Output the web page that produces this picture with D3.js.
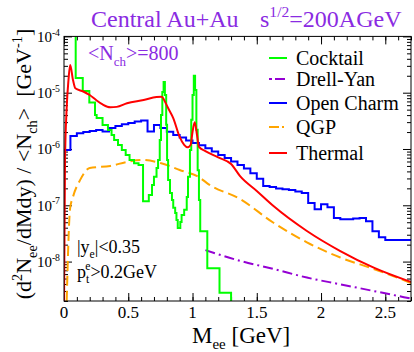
<!DOCTYPE html>
<html>
<head>
<meta charset="utf-8">
<script src="https://cdn.jsdelivr.net/npm/d3@7"></script>
<style>
body { margin: 0; background: #fff; }
svg, text, tspan { font-family: "Liberation Serif", "DejaVu Serif", serif; }
</style>
</head>
<body>
<div id="chart"></div>
<script>
// dilepton mass spectra
var cocktailMass = [0.00, 0.091, 0.146, 0.197, 0.241, 0.254, 0.30, 0.342, 0.37, 0.39, 0.42, 0.45, 0.48, 0.51, 0.545, 0.58,
    0.615, 0.66, 0.685, 0.70, 0.72, 0.732, 0.745, 0.755, 0.765, 0.775, 0.785, 0.795, 0.802,
    0.81, 0.825, 0.84, 0.85, 0.865, 0.875, 0.885, 0.905, 0.915, 0.935, 0.955, 0.965,
    0.98, 0.99, 1.00, 1.01, 1.02, 1.03, 1.04, 1.05, 1.06, 1.115, 1.21, 1.30];
var cocktailVal = [3e-4, 1.82e-5, 1.07e-5, 6.7e-6, 4.0e-6, 3.55e-6, 2.67e-6, 2.18e-6, 1.77e-6, 1.44e-6, 1.18e-6, 9.6e-7, 7.8e-7, 6.4e-7, 5.6e-7, 5.2e-7,
    1.18e-7, 1.52e-7, 2.3e-7, 3.2e-7, 4.6e-7, 6.4e-7, 1.44e-6, 4.0e-6, 1.03e-5, 1.55e-5, 9.1e-6, 2.7e-6, 6.4e-7,
    2.8e-7, 1.65e-7, 1.24e-7, 9.0e-8, 7.3e-8, 5.5e-8, 3.95e-8, 5.05e-8, 6.7e-8, 8.3e-8, 1.4e-7, 3.2e-7,
    9.6e-7, 3.3e-6, 9.1e-6, 2.0e-5, 1.12e-5, 2.2e-6, 4.2e-7, 1.24e-7, 3.45e-8, 7.6e-9, 2.8e-9, 1e-10];

var charmMass = d3.range(0, 2.701, 0.05);
var charmVal = [9.6e-7, 1.70e-6, 1.90e-6, 2.01e-6, 2.09e-6, 2.18e-6, 2.05e-6, 2.35e-6, 2.56e-6, 2.75e-6,
    2.90e-6, 3.08e-6, 3.2e-6, 2.05e-6, 2.67e-6, 2.35e-6, 2.03e-6, 1.77e-6, 1.60e-6, 1.42e-6,
    1.28e-6, 1.16e-6, 1.03e-6, 9.0e-7, 7.8e-7, 6.9e-7, 6.0e-7, 5.2e-7, 4.5e-7, 3.7e-7,
    2.95e-7, 2.2e-7, 2.12e-7, 1.98e-7, 1.92e-7, 1.87e-7, 1.76e-7, 1.65e-7, 1.10e-7, 8.5e-8,
    1.04e-7, 9.2e-8, 5.95e-8, 5.65e-8, 5.65e-8, 5.85e-8, 5.95e-8, 5.2e-8, 3.45e-8, 2.7e-8,
    2.42e-8, 2.42e-8, 2.42e-8, 2.42e-8, 2.42e-8];

var thermalMass = [0.0, 0.008, 0.02, 0.035, 0.048, 0.07, 0.088, 0.15, 0.20, 0.25, 0.30, 0.36, 0.41, 0.49, 0.62, 0.72, 0.76,
    0.79, 0.81, 0.85, 0.90, 0.935, 0.96, 0.985, 1.00, 1.017, 1.035, 1.05, 1.10, 1.20, 1.30, 1.37,
    1.50, 1.63, 1.89, 2.15, 2.41, 2.70];
var thermalVal = [1.5e-9, 6.4e-7, 4.9e-6, 1.7e-5, 3.1e-5, 1.68e-5, 1.2e-5, 1.05e-5, 9.1e-6, 7.4e-6, 6.2e-6, 5.5e-6, 5.6e-6, 6.5e-6, 7.4e-6, 8.4e-6, 8.5e-6,
    6.6e-6, 5.35e-6, 3.55e-6, 1.64e-6, 1.18e-6, 1.07e-6, 1.18e-6, 2.0e-6, 3.0e-6, 1.77e-6, 1.09e-6, 9.2e-7, 7.1e-7, 5.4e-7, 3.3e-7,
    1.8e-7, 9.7e-8, 3.5e-8, 1.54e-8, 7.8e-9, 4.35e-9];

var qgpMass = [0.021, 0.047, 0.07, 0.125, 0.20, 0.36, 0.49, 0.60, 0.75, 0.90, 1.06, 1.11, 1.37, 1.63, 1.89, 2.15, 2.41, 2.70];
var qgpVal = [2e-9, 8.6e-8, 1.41e-7, 2.8e-7, 4.6e-7, 5.0e-7, 5.9e-7, 6.4e-7, 5.64e-7, 4.24e-7, 3.07e-7, 2.5e-7, 1.29e-7, 4.9e-8, 2.2e-8, 1.18e-8, 7.4e-9, 4.17e-9];

var dyMass = [1.10, 1.37, 1.63, 1.89, 2.15, 2.41, 2.70];
var dyVal = [1.6e-8, 1.03e-8, 7.4e-9, 5.2e-9, 3.95e-9, 3.0e-9, 2.2e-9];

var xTicks = [0, 0.5, 1, 1.5, 2, 2.5];
var xTickLabels = ["0", "0.5", "1", "1.5", "2", "2.5"];
var yTickExp = [-4, -5, -6, -7, -8];
var legendNames = ["Cocktail", "Drell-Yan", "Open Charm", "QGP", "Thermal"];

var W = 414, H = 352;
var margin = {top: 36.4, right: 3, bottom: 51, left: 64},
    width = W - margin.left - margin.right,
    height = H - margin.top - margin.bottom;

var svg = d3.select("#chart").append("svg")
    .attr("width", W)
    .attr("height", H)
    .attr("font-family", "Liberation Serif, DejaVu Serif, serif");

var g = svg.append("g")
    .attr("transform", "translate(" + margin.left + "," + margin.top + ")");

var x = d3.scaleLinear().domain([0, 2.7]).range([0, width]);
var y = d3.scaleLog().domain([Math.pow(10, -8.7), 1e-4]).range([height, 0]);

var violet = "#8a2be2";

// writes text with sub/superscripts as tspans
function rich(sel, parts, size) {
    var shift = 0;
    parts.forEach(function (p) {
        var target = p[1] === "sup" ? -size * 0.42 : p[1] === "sub" ? size * 0.28 : 0;
        sel.append("tspan")
            .attr("dy", target - shift)
            .attr("font-size", p[1] ? size * 0.65 : size)
            .text(p[0]);
        shift = target;
    });
}

g.append("clipPath").attr("id", "clip")
    .append("rect").attr("width", width).attr("height", height);

// ticks (inward, on all four sides)
var minorX = d3.range(0, 2.71, 0.1);
var minorY = [];
for (var e = -9; e < -4; e++) {
    for (var k = 2; k < 10; k++) {
        var v = k * Math.pow(10, e);
        if (v > Math.pow(10, -8.7) && v < 1e-4) minorY.push(v);
    }
}

function ticks(axis, vals, len) {
    return axis.tickValues(vals).tickSize(-len).tickFormat("");
}

g.append("g").attr("transform", "translate(0," + height + ")").call(ticks(d3.axisBottom(x), minorX, 4));
g.append("g").attr("transform", "translate(0," + height + ")").call(ticks(d3.axisBottom(x), xTicks, 8));
g.append("g").call(ticks(d3.axisTop(x), minorX, 4));
g.append("g").call(ticks(d3.axisTop(x), xTicks, 8));
g.append("g").call(ticks(d3.axisLeft(y), minorY, 4));
g.append("g").call(ticks(d3.axisLeft(y), yTickExp.map(function (d) { return Math.pow(10, d); }), 8));
g.append("g").attr("transform", "translate(" + width + ",0)").call(ticks(d3.axisRight(y), minorY, 4));
g.append("g").attr("transform", "translate(" + width + ",0)").call(ticks(d3.axisRight(y), yTickExp.map(function (d) { return Math.pow(10, d); }), 8));
g.selectAll(".domain").remove();
g.selectAll(".tick line").attr("stroke", "#000");

// tick labels
g.selectAll(".xlab")
    .data(xTicks)
    .enter().append("text")
    .attr("x", function (d) { return x(d); })
    .attr("y", height + 17)
    .attr("text-anchor", "middle")
    .attr("font-size", 17)
    .text(function (d, i) { return xTickLabels[i]; });

yTickExp.forEach(function (d) {
    var t = g.append("text")
        .attr("x", -4)
        .attr("y", y(Math.pow(10, d)) + 5.5)
        .attr("text-anchor", "end");
    rich(t, [["10"], [String(d), "sup"]], 15);
});

// curves
var plot = g.append("g").attr("clip-path", "url(#clip)");

function series(mass, vals, curve) {
    var pts = mass.map(function (m, i) { return [m, vals[i]]; });
    return d3.line()
        .x(function (d) { return x(d[0]); })
        .y(function (d) { return y(d[1]); })
        .curve(curve)(pts);
}

plot.append("path")
    .attr("d", series(qgpMass, qgpVal, d3.curveMonotoneX))
    .attr("fill", "none").attr("stroke", "#ffa500").attr("stroke-width", 2)
    .attr("stroke-dasharray", "10,5");

plot.append("path")
    .attr("d", series(dyMass, dyVal, d3.curveMonotoneX))
    .attr("fill", "none").attr("stroke", "#9400d3").attr("stroke-width", 2)
    .attr("stroke-dasharray", "10,4,2,4");

var charmPts = [0].concat(charmMass);
var charmV = [1e-10].concat(charmVal);
plot.append("path")
    .attr("d", series(charmPts, charmV, d3.curveStepAfter))
    .attr("fill", "none").attr("stroke", "#0000ff").attr("stroke-width", 2);

plot.append("path")
    .attr("d", series(cocktailMass, cocktailVal, d3.curveStepAfter))
    .attr("fill", "none").attr("stroke", "#00ff00").attr("stroke-width", 2);

plot.append("path")
    .attr("d", series(thermalMass, thermalVal, d3.curveMonotoneX))
    .attr("fill", "none").attr("stroke", "#ff0000").attr("stroke-width", 2);

// frame
g.append("rect")
    .attr("width", width).attr("height", height)
    .attr("fill", "none").attr("stroke", "#000").attr("stroke-width", 1);

// legend
var legendColor = ["#00ff00", "#9400d3", "#0000ff", "#ffa500", "#ff0000"];
var legendDash = [null, "3,3,10,3", null, "10,3,2,3", null];
var legendY = [58, 79, 103, 127, 153];
legendNames.forEach(function (name, i) {
    svg.append("line")
        .attr("x1", 269).attr("x2", 287)
        .attr("y1", legendY[i]).attr("y2", legendY[i])
        .attr("stroke", legendColor[i]).attr("stroke-width", 2)
        .attr("stroke-dasharray", legendDash[i]);
    svg.append("text")
        .attr("x", 296).attr("y", legendY[i] + 7)
        .attr("font-size", 20)
        .text(name);
});

// title and annotations
svg.append("text")
    .attr("x", 91).attr("y", 27)
    .attr("font-size", 24).attr("fill", violet)
    .text("Central Au+Au");
var s = svg.append("text")
    .attr("x", 260).attr("y", 27)
    .attr("fill", violet);
rich(s, [["s"], ["1/2", "sup"], ["=200AGeV"]], 24);

var nch = svg.append("text").attr("x", 88).attr("y", 60).attr("fill", violet);
rich(nch, [["<N"], ["ch", "sub"], [">=800"]], 20);

var ye = svg.append("text").attr("x", 77).attr("y", 253);
rich(ye, [["|y"], ["e", "sub"], ["|<0.35"]], 18);

var pt = svg.append("text").attr("x", 77).attr("y", 278);
rich(pt, [["p"], ["t", "sub"]], 18);
pt.append("tspan").attr("dx", -4).attr("dy", -13).attr("font-size", 11.7).text("e");
pt.append("tspan").attr("dy", 8).attr("font-size", 18).text(">0.2GeV");

// axis titles
var yl = svg.append("text")
    .attr("transform", "translate(31,164) rotate(-90)")
    .attr("text-anchor", "middle");
rich(yl, [["(d"], ["2", "sup"], ["N"], ["ee", "sub"], ["/dMdy) / <N"], ["ch", "sub"], [">  [GeV"], ["-1", "sup"], ["]"]], 22);
yl.style("white-space", "pre");

var xl = svg.append("text")
    .attr("x", 192).attr("y", 343);
rich(xl, [["M"], ["ee", "sub"], [" [GeV]"]], 23);
xl.style("white-space", "pre");
</script>
</body>
</html>
